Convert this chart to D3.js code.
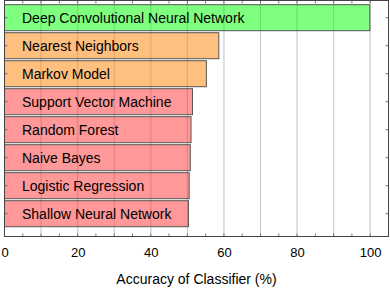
<!DOCTYPE html>
<html>
<head>
<meta charset="utf-8">
<script src="https://cdn.jsdelivr.net/npm/d3@7"></script>
<style>
  html, body { margin: 0; padding: 0; background: #fff; }
  svg { display: block; font-family: "Liberation Sans", Arial, sans-serif; }
</style>
</head>
<body>
<svg id="chart" width="390" height="288"></svg>
<script>
const categories = [
  "Deep Convolutional Neural Network",
  "Nearest Neighbors",
  "Markov Model",
  "Support Vector Machine",
  "Random Forest",
  "Naive Bayes",
  "Logistic Regression",
  "Shallow Neural Network"
];
const accuracy = [99.9, 58.6, 55.2, 51.4, 51.0, 50.8, 50.5, 50.3];
const groups = ["best", "mid", "mid", "low", "low", "low", "low", "low"];
const xTicks = [0, 20, 40, 60, 80, 100];
const xTitle = "Accuracy of Classifier (%)";

(function () {
const groupColor = { best: "#00ff00", mid: "#ff8000", low: "#ff3333" };

const svg = d3.select("#chart");
const pl = 4.5, pr = 388.5, pt = 0.5, pb = 236.5;

const x = d3.scaleLinear().domain([0, 105]).range([pl, pr]);
const y = d3.scaleBand().domain(categories).range([3.7, 227.7])
  .paddingInner(2 / 28).paddingOuter(1 / 28);

// gridlines
const gridVals = d3.range(10, 101, 10);
svg.append("g").selectAll("line").data(gridVals).join("line")
  .attr("x1", d => x(d)).attr("x2", d => x(d))
  .attr("y1", pt).attr("y2", pb)
  .attr("stroke", d => d % 20 === 0 ? "#d8d8d8" : "#bdbdbd")
  .attr("stroke-width", d => d % 20 === 0 ? 1.6 : 0.9);

// bars
const data = categories.map((c, i) => ({ c, v: accuracy[i], g: groups[i] }));
svg.append("g").selectAll("rect").data(data).join("rect")
  .attr("x", x(0))
  .attr("y", d => y(d.c))
  .attr("width", d => x(d.v) - x(0))
  .attr("height", y.bandwidth())
  .attr("fill", d => groupColor[d.g])
  .attr("fill-opacity", 0.5)
  .attr("stroke", "#555")
  .attr("stroke-width", 1);

// labels in bars
svg.append("g").selectAll("text").data(data).join("text")
  .attr("x", x(0) + 17.5)
  .attr("y", d => y(d.c) + y.bandwidth() / 2 + 5.3)
  .attr("font-size", 14)
  .attr("fill", "#000")
  .text(d => d.c);

// minor ticks on top and bottom
const minorVals = d3.range(0, 106, 5);
const tickColor = "#555";
svg.append("g").selectAll("line").data(minorVals).join("line")
  .attr("x1", d => x(d)).attr("x2", d => x(d))
  .attr("y1", pb).attr("y2", pb - 3)
  .attr("stroke", tickColor).attr("stroke-width", 0.8);
svg.append("g").selectAll("line").data(minorVals).join("line")
  .attr("x1", d => x(d)).attr("x2", d => x(d))
  .attr("y1", pt).attr("y2", pt + 3)
  .attr("stroke", tickColor).attr("stroke-width", 0.8);

// left/right ticks at bar centres
svg.append("g").selectAll("line").data(categories).join("line")
  .attr("x1", pl).attr("x2", pl + 3)
  .attr("y1", d => y(d) + y.bandwidth() / 2).attr("y2", d => y(d) + y.bandwidth() / 2)
  .attr("stroke", tickColor).attr("stroke-width", 0.8);
svg.append("g").selectAll("line").data(categories).join("line")
  .attr("x1", pr).attr("x2", pr - 3)
  .attr("y1", d => y(d) + y.bandwidth() / 2).attr("y2", d => y(d) + y.bandwidth() / 2)
  .attr("stroke", tickColor).attr("stroke-width", 0.8);

// frame
svg.append("rect")
  .attr("x", pl).attr("y", pt)
  .attr("width", pr - pl).attr("height", pb - pt)
  .attr("fill", "none").attr("stroke", "#444").attr("stroke-width", 1);

// bottom axis labels
const xAxis = d3.axisBottom(x).tickValues(xTicks).tickSize(0).tickPadding(0);
const gx = svg.append("g").attr("transform", `translate(0,${pb})`).call(xAxis);
gx.select(".domain").remove();
gx.selectAll("text")
  .attr("font-size", 13)
  .attr("font-family", "Liberation Sans, Arial, sans-serif")
  .attr("fill", "#000")
  .attr("dy", null)
  .attr("y", 20);

// axis title
svg.append("text")
  .attr("x", (pl + pr) / 2)
  .attr("y", 284)
  .attr("text-anchor", "middle")
  .attr("font-size", 14)
  .attr("fill", "#000")
  .text(xTitle);
})();
</script>
</body>
</html>
